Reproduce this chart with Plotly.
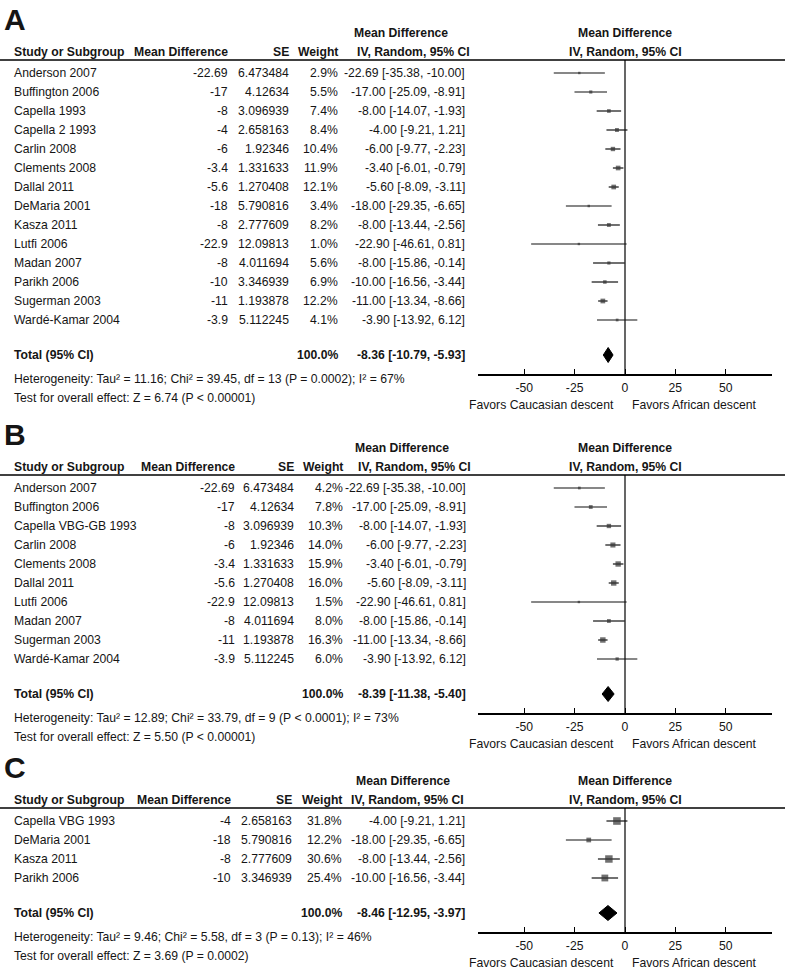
import glob
import plotly.graph_objects as go

# ---------------- data ----------------
studies_a = ["Anderson 2007", "Buffington 2006", "Capella 1993", "Capella 2 1993", "Carlin 2008",
             "Clements 2008", "Dallal 2011", "DeMaria 2001", "Kasza 2011", "Lutfi 2006",
             "Madan 2007", "Parikh 2006", "Sugerman 2003", "Wardé-Kamar 2004"]
md_a = [-22.69, -17, -8, -4, -6, -3.4, -5.6, -18, -8, -22.9, -8, -10, -11, -3.9]
se_a = [6.473484, 4.12634, 3.096939, 2.658163, 1.92346, 1.331633, 1.270408, 5.790816,
        2.777609, 12.09813, 4.011694, 3.346939, 1.193878, 5.112245]
weight_a = [2.9, 5.5, 7.4, 8.4, 10.4, 11.9, 12.1, 3.4, 8.2, 1.0, 5.6, 6.9, 12.2, 4.1]
lo_a = [-35.38, -25.09, -14.07, -9.21, -9.77, -6.01, -8.09, -29.35, -13.44, -46.61, -15.86, -16.56, -13.34, -13.92]
hi_a = [-10.00, -8.91, -1.93, 1.21, -2.23, -0.79, -3.11, -6.65, -2.56, 0.81, -0.14, -3.44, -8.66, 6.12]
total_a = [-8.36, -10.79, -5.93]
het_a = "Heterogeneity: Tau² = 11.16; Chi² = 39.45, df = 13 (P = 0.0002); I² = 67%"
test_a = "Test for overall effect: Z = 6.74 (P < 0.00001)"

studies_b = ["Anderson 2007", "Buffington 2006", "Capella VBG-GB 1993", "Carlin 2008", "Clements 2008",
             "Dallal 2011", "Lutfi 2006", "Madan 2007", "Sugerman 2003", "Wardé-Kamar 2004"]
md_b = [-22.69, -17, -8, -6, -3.4, -5.6, -22.9, -8, -11, -3.9]
se_b = [6.473484, 4.12634, 3.096939, 1.92346, 1.331633, 1.270408, 12.09813, 4.011694, 1.193878, 5.112245]
weight_b = [4.2, 7.8, 10.3, 14.0, 15.9, 16.0, 1.5, 8.0, 16.3, 6.0]
lo_b = [-35.38, -25.09, -14.07, -9.77, -6.01, -8.09, -46.61, -15.86, -13.34, -13.92]
hi_b = [-10.00, -8.91, -1.93, -2.23, -0.79, -3.11, 0.81, -0.14, -8.66, 6.12]
total_b = [-8.39, -11.38, -5.40]
het_b = "Heterogeneity: Tau² = 12.89; Chi² = 33.79, df = 9 (P < 0.0001); I² = 73%"
test_b = "Test for overall effect: Z = 5.50 (P < 0.00001)"

studies_c = ["Capella VBG 1993", "DeMaria 2001", "Kasza 2011", "Parikh 2006"]
md_c = [-4, -18, -8, -10]
se_c = [2.658163, 5.790816, 2.777609, 3.346939]
weight_c = [31.8, 12.2, 30.6, 25.4]
lo_c = [-9.21, -29.35, -13.44, -16.56]
hi_c = [1.21, -6.65, -2.56, -3.44]
total_c = [-8.46, -12.95, -3.97]
het_c = "Heterogeneity: Tau² = 9.46; Chi² = 5.58, df = 3 (P = 0.13); I² = 46%"
test_c = "Test for overall effect: Z = 3.69 (P = 0.0002)"

tick_vals = [-50, -25, 0, 25, 50]
tick_text = ["-50", "-25", "0", "25", "50"]
favors_left = "Favors Caucasian descent"
favors_right = "Favors African descent"

# ---------------- layout / style ----------------
W, H = 785, 971
if glob.glob("/usr/share/fonts/**/LiberationSansNarrow-Regular*", recursive=True):
    FONT, FS = "Liberation Sans Narrow", 14.5
else:
    FONT, FS = "Liberation Sans", 12.2
TXT = "#151515"
XR = [-73, 73]
PLOT_X0, PLOT_X1 = 478, 772

panels = [
    dict(letter="A", T=60, studies=studies_a, md=md_a, se=se_a, w=weight_a, lo=lo_a, hi=hi_a,
         tot=total_a, het=het_a, test=test_a, cols=(230, 291, 340, 467, 450, 472), ax="x"),
    dict(letter="B", T=475, studies=studies_b, md=md_b, se=se_b, w=weight_b, lo=lo_b, hi=hi_b,
         tot=total_b, het=het_b, test=test_b, cols=(237, 296, 345, 468, 451, 473), ax="x2"),
    dict(letter="C", T=808, studies=studies_c, md=md_c, se=se_c, w=weight_c, lo=lo_c, hi=hi_c,
         tot=total_c, het=het_c, test=test_c, cols=(233, 294, 344, 467, 452, 466), ax="x3"),
]

fig = go.Figure()
annotations = []
shapes = []


def txt(x, y, s, anchor="left", bold=False, size=None, xref="paper", xshift=0):
    annotations.append(dict(
        x=x / W if xref == "paper" else x, y=y, xref=xref, yref="y",
        text=f"<b>{s}</b>" if bold else s, showarrow=False, xanchor=anchor, yanchor="middle",
        xshift=xshift, font=dict(size=size or FS, color=TXT, family=FONT)))


axis_layout = {}
for p in panels:
    T = p["T"]
    md_x, se_x, wt_x, ci_x, h1_x, h2_x = p["cols"]
    n = len(p["studies"])
    rows = [T + 13 + 19 * i for i in range(n)]
    y_tot = rows[-1] + 35
    y_axis = y_tot + 19
    y_het = y_tot + 24
    y_test = y_het + 19

    # panel letter
    txt(2, T - 41, p["letter"], bold=True, size=30)
    # headers
    txt(h1_x, T - 27, "Mean Difference", anchor="right", bold=True)
    txt(12, T - 8, "Study or Subgroup", bold=True)
    txt(md_x, T - 8, "Mean Difference", anchor="right", bold=True)
    txt(se_x, T - 8, "SE", anchor="right", bold=True)
    txt(wt_x, T - 8, "Weight", anchor="right", bold=True)
    txt(h2_x, T - 8, "IV, Random, 95% CI", anchor="right", bold=True)
    txt(0, T - 27, "Mean Difference", anchor="center", bold=True, xref="x")
    txt(0, T - 8, "IV, Random, 95% CI", anchor="center", bold=True, xref="x")
    shapes.append(dict(type="line", xref="paper", yref="y", x0=0, x1=1, y0=T, y1=T,
                       line=dict(color="black", width=1.5)))

    # table rows
    for i in range(n):
        y = rows[i]
        txt(12, y, p["studies"][i])
        txt(md_x, y, f"{p['md'][i]:g}", anchor="right")
        txt(se_x, y, str(p["se"][i]), anchor="right")
        txt(wt_x, y, f"{p['w'][i]:.1f}%", anchor="right")
        txt(ci_x, y, f"{p['md'][i]:.2f} [{p['lo'][i]:.2f}, {p['hi'][i]:.2f}]", anchor="right")

    est, tlo, thi = p["tot"]
    txt(12, y_tot, "Total (95% CI)", bold=True)
    txt(wt_x, y_tot, "100.0%", anchor="right", bold=True)
    txt(ci_x, y_tot, f"{est:.2f} [{tlo:.2f}, {thi:.2f}]", anchor="right", bold=True)
    txt(12, y_het, p["het"])
    txt(12, y_test, p["test"])

    # favors labels
    txt(0, y_axis + 31, favors_left, anchor="right", xref="x", xshift=-9)
    txt(0, y_axis + 31, favors_right, anchor="left", xref="x", xshift=5)

    ax = p["ax"]
    # zero line
    fig.add_trace(go.Scatter(x=[0, 0], y=[T, y_axis], mode="lines", xaxis=ax, yaxis="y",
                             line=dict(color="black", width=1.2), hoverinfo="skip", showlegend=False))
    # CI lines
    xs, ys = [], []
    for i in range(n):
        xs += [max(p["lo"][i], XR[0]), min(p["hi"][i], XR[1]), None]
        ys += [rows[i], rows[i], None]
    fig.add_trace(go.Scatter(x=xs, y=ys, mode="lines", xaxis=ax, yaxis="y",
                             line=dict(color="#111111", width=1.2), hoverinfo="skip", showlegend=False))
    # squares
    fig.add_trace(go.Scatter(x=p["md"], y=rows, mode="markers", xaxis=ax, yaxis="y",
                             marker=dict(symbol="square", color="#333333",
                                         size=[max(2.4, 1.35 * w ** 0.5) for w in p["w"]],
                                         line=dict(width=0)),
                             hoverinfo="skip", showlegend=False))
    # diamond
    hd = 7.5
    fig.add_trace(go.Scatter(x=[tlo, est, thi, est, tlo], y=[y_tot, y_tot - hd, y_tot, y_tot + hd, y_tot],
                             mode="lines", fill="toself", fillcolor="black", xaxis=ax, yaxis="y",
                             line=dict(color="black", width=1), hoverinfo="skip", showlegend=False))

    key = "xaxis" if ax == "x" else "xaxis" + ax[1:]
    a = dict(domain=[PLOT_X0 / W, PLOT_X1 / W], range=XR, anchor="free", position=1 - y_axis / H,
             showline=True, linecolor="black", linewidth=1.5, ticks="inside", ticklen=5, tickwidth=1,
             tickcolor="black", tickvals=tick_vals, ticktext=tick_text, showgrid=False, zeroline=False,
             tickfont=dict(size=FS, color=TXT, family=FONT), fixedrange=True, ticklabelstandoff=2)
    if ax != "x":
        a["overlaying"] = "x"
    axis_layout[key] = a

fig.update_layout(
    width=W, height=H, margin=dict(l=0, r=0, t=0, b=0),
    paper_bgcolor="white", plot_bgcolor="rgba(0,0,0,0)",
    yaxis=dict(domain=[0, 1], range=[H, 0], visible=False, fixedrange=True),
    annotations=annotations, shapes=shapes, showlegend=False,
    **axis_layout,
)

fig.write_html("out.html", config={"displayModeBar": False, "staticPlot": True})

# remove the browser's default page margin so the figure sits at the window's top-left corner
with open("out.html", encoding="utf-8") as f:
    html = f.read()
html = html.replace("<body>", '<body style="margin:0;padding:0;overflow:hidden;">', 1)
with open("out.html", "w", encoding="utf-8") as f:
    f.write(html)
